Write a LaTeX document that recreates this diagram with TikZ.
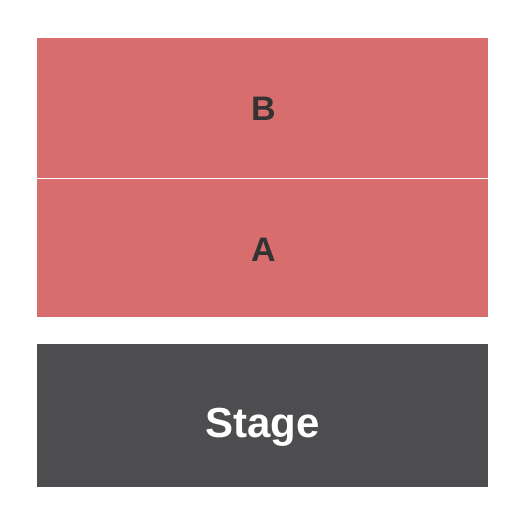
\documentclass[tikz,border=0pt]{standalone}
\usepackage{fontspec}
\setmainfont{Liberation Sans}
\definecolor{secred}{HTML}{D76D6D}
\definecolor{stagegray}{HTML}{4D4D4F}
\definecolor{labeldark}{HTML}{333333}
\begin{document}
\begin{tikzpicture}[x=1pt,y=-1pt,
  section/.style={fill=secred,draw=none},
  stagebox/.style={fill=stagegray,draw=none},
  seclabel/.style={font=\fontsize{34}{34}\selectfont\bfseries,text=labeldark,inner sep=0pt,anchor=base},
  stagelabel/.style={font=\fontsize{42}{42}\selectfont\bfseries,text=white,inner sep=0pt,anchor=base}]
\useasboundingbox (0,0) rectangle (525,525);
\fill[section] (37,38) rectangle (488,177.7);
\fill[section] (37,179.3) rectangle (488,316.7);
\fill[stagebox] (37,344) rectangle (488,486.7);
\node[seclabel] (B) at (263.5,120.7) {B};
\node[seclabel] (A) at (263.5,261) {A};
\node[stagelabel] (S) at (262.5,437) {Stage};
\end{tikzpicture}
\end{document}
